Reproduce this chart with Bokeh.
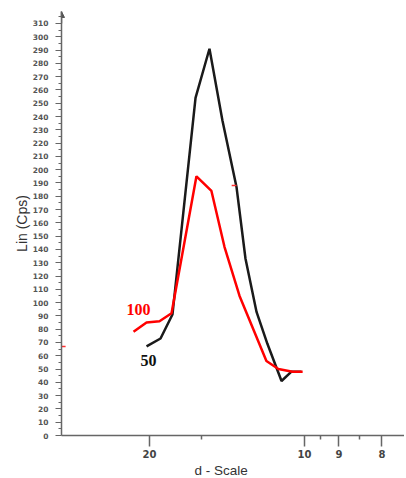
from bokeh.plotting import figure
from bokeh.models import Range1d, FixedTicker, Arrow, NormalHead, Title
from bokeh.core.properties import value
from bokeh.embed import file_html
from bokeh.resources import INLINE

# d-spacing (Angstrom) and intensity (Cps)
red_d = [22.30, 20.39, 18.79, 17.51, 15.35, 14.29, 13.48, 12.65, 11.40, 10.92, 10.40, 10.06]
red_cps = [78, 85, 86, 92, 195, 184, 142, 105, 56, 50, 48, 48]
black_d = [20.39, 18.67, 17.42, 15.42, 14.42, 13.60, 12.81, 12.35, 11.83, 11.36, 10.80, 10.44, 10.10]
black_cps = [67, 73, 91, 254, 291, 237, 187, 133, 93, 69, 41, 48, 48]

x_tick_d = [20, 10, 9, 8]
x_minor_d = [15, 9.5, 8.5]
y_ticks = list(range(0, 311, 10))
y_minor = list(range(5, 316, 10))

label_red = "100"
label_black = "50"
label_red_pos = (21.53, 94.8)
label_black_pos = (20.13, 56.4)

# small red scan marks
mark_d0 = [46.2, 13.07]
mark_d1 = [43.6, 12.81]
mark_cps = [67, 188]

def inv(ds):
    return [1.0 / d for d in ds]

X0, X1 = 0.021613, 0.13226

p = figure(width=404, height=477, output_backend="svg", toolbar_location=None,
           x_range=Range1d(X0, X1), y_range=Range1d(0, 319),
           min_border_left=61, min_border_right=0, min_border_top=11, min_border_bottom=41)
p.background_fill_color = "white"
p.border_fill_color = "white"
p.outline_line_color = None
p.grid.visible = False

# x axis
xa = p.xaxis[0]
xa.ticker = FixedTicker(ticks=inv(x_tick_d), minor_ticks=inv(x_minor_d))
xa.major_label_overrides = {1.0 / d: str(d) for d in x_tick_d}
xa.major_label_text_font = "DejaVu Sans"
xa.major_label_text_font_style = "bold"
xa.major_label_text_font_size = "10px"
xa.major_label_text_color = "#444444"
xa.major_label_standoff = 3
xa.major_tick_in = 0
xa.major_tick_out = 11
xa.minor_tick_in = 0
xa.minor_tick_out = 4
xa.axis_line_color = "#666666"
xa.axis_line_width = 1.5
xa.major_tick_line_color = "#666666"
xa.major_tick_line_width = 1.5
xa.minor_tick_line_color = "#666666"
xa.minor_tick_line_width = 1.5

# y axis
ya = p.yaxis[0]
ya.ticker = FixedTicker(ticks=y_ticks, minor_ticks=y_minor)
ya.axis_label = "Lin (Cps)"
ya.axis_label_text_font = "Liberation Sans"
ya.axis_label_text_font_style = "normal"
ya.axis_label_text_font_size = "14px"
ya.axis_label_text_color = "#333333"
ya.axis_label_standoff = 0
ya.major_label_text_font = "DejaVu Sans"
ya.major_label_text_font_style = "bold"
ya.major_label_text_font_size = "7.5px"
ya.major_label_text_color = "#555555"
ya.major_label_standoff = 7
ya.major_tick_in = 0
ya.major_tick_out = 6
ya.minor_tick_in = 0
ya.minor_tick_out = 3
ya.axis_line_color = "#666666"
ya.axis_line_width = 1.5
ya.major_tick_line_color = "#666666"
ya.minor_tick_line_color = "#666666"

# x axis title placed under the axis
p.add_layout(Title(text="d - Scale", align="left", offset=133, standoff=0,
                   text_font="Liberation Sans", text_font_size="13.5px",
                   text_font_style="normal", text_color="#333333"), "below")

# arrow at top of y axis
p.add_layout(Arrow(end=NormalHead(size=6, fill_color="#555555", line_color="#555555"),
                   x_start=X0, y_start=310, x_end=X0, y_end=319,
                   line_color="#666666", line_width=1.5))

p.line(inv(black_d), black_cps, line_color="#1a1a1a", line_width=2.5)
p.line(inv(red_d), red_cps, line_color="#ff0000", line_width=2.5)
p.segment(x0=inv(mark_d0), y0=mark_cps, x1=inv(mark_d1), y1=mark_cps,
          line_color="#ff3030", line_width=1.5)

p.text(x=[1.0 / label_red_pos[0]], y=[label_red_pos[1]], text=[label_red],
       text_font=value("Liberation Serif"), text_font_style="bold", text_font_size="16px",
       text_color="#ff0000", text_align="center", text_baseline="middle")
p.text(x=[1.0 / label_black_pos[0]], y=[label_black_pos[1]], text=[label_black],
       text_font=value("Liberation Serif"), text_font_style="bold", text_font_size="16px",
       text_color="#111111", text_align="center", text_baseline="middle")

open("out.html", "w").write(file_html(p, INLINE))
